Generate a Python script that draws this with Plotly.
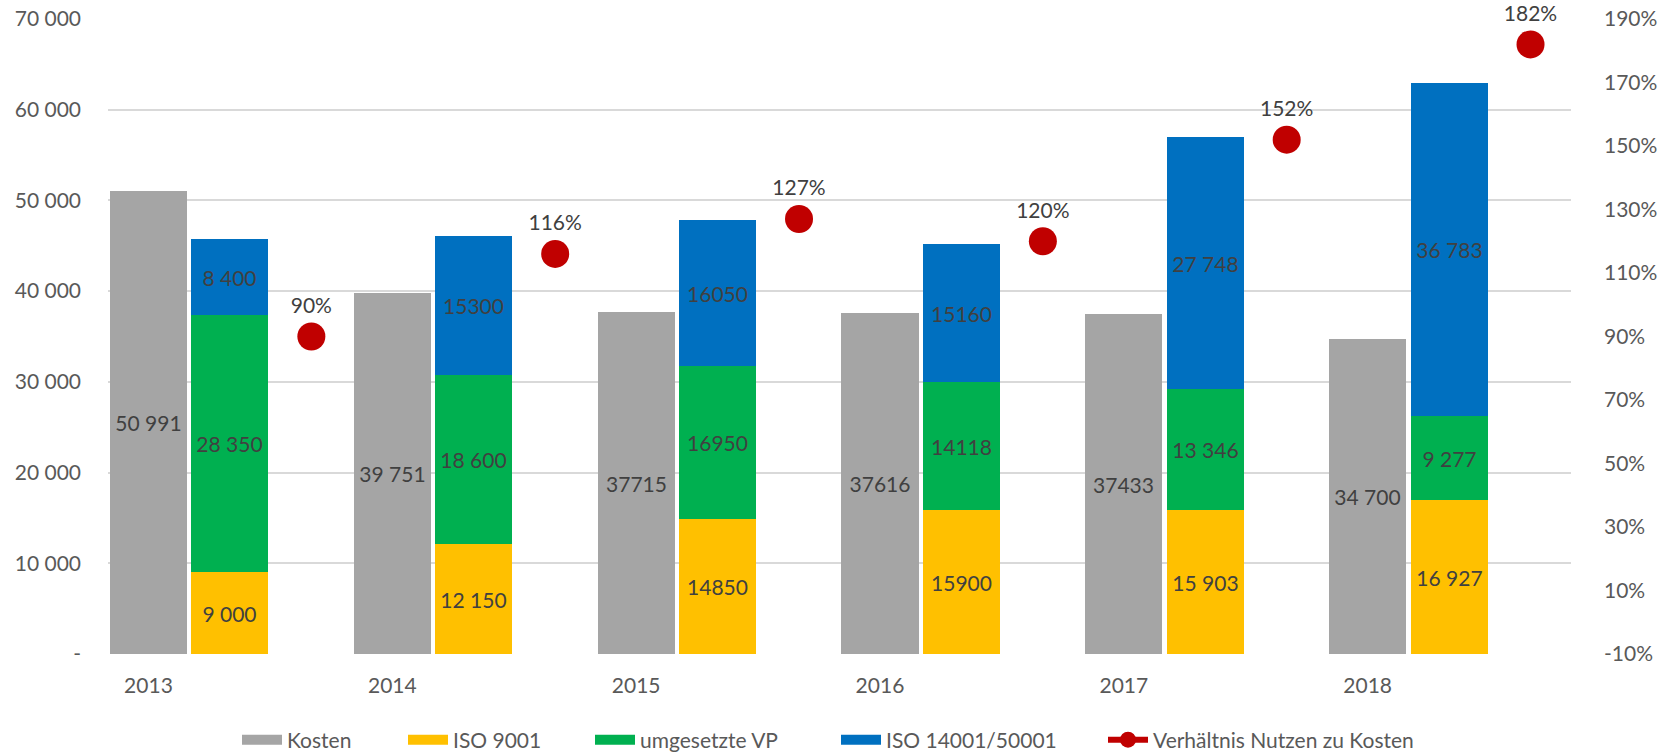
import plotly.graph_objects as go

years = ["2013", "2014", "2015", "2016", "2017", "2018"]
kosten = [50991, 39751, 37715, 37616, 37433, 34700]
iso9001 = [9000, 12150, 14850, 15900, 15903, 16927]
vp = [28350, 18600, 16950, 14118, 13346, 9277]
iso14001 = [8400, 15300, 16050, 15160, 27748, 36783]
ratio = [0.90, 1.16, 1.27, 1.20, 1.52, 1.82]

kosten_lbl = ["50 991", "39 751", "37715", "37616", "37433", "34 700"]
iso9001_lbl = ["9 000", "12 150", "14850", "15900", "15 903", "16 927"]
vp_lbl = ["28 350", "18 600", "16950", "14118", "13 346", "9 277"]
iso14001_lbl = ["8 400", "15300", "16050", "15160", "27 748", "36 783"]

left_ticks = [0, 10000, 20000, 30000, 40000, 50000, 60000, 70000]
left_ticktext = ["-", "10 000", "20 000", "30 000", "40 000", "50 000", "60 000", "70 000"]
right_ticks = [-0.1, 0.1, 0.3, 0.5, 0.7, 0.9, 1.1, 1.3, 1.5, 1.7, 1.9]
right_ticktext = ["-10%", "10%", "30%", "50%", "70%", "90%", "110%", "130%", "150%", "170%", "190%"]

names = ["Kosten", "ISO 9001", "umgesetzte VP", "ISO 14001/50001", "Verhältnis Nutzen zu Kosten"]
colors = ["#A5A5A5", "#FFC000", "#00B050", "#0070C0", "#C00000"]

FONT = "Lato"
AX_COLOR = "#595959"
LBL_COLOR = "#404040"
FS = 21
W, H = 1665, 752

idx = list(range(len(years)))
off = 0.334
bw = 0.316
x_k = [i - off for i in idx]
x_s = [i for i in idx]
x_r = [i + off for i in idx]

fig = go.Figure()

def bar(x, y, txt, name, color):
    return go.Bar(
        x=x, y=y, name=name, width=bw, showlegend=False,
        marker=dict(color=color, line=dict(width=0)),
        text=txt, textposition="inside", insidetextanchor="middle",
        textangle=0, constraintext="none",
        textfont=dict(family=FONT, size=FS, color=LBL_COLOR),
        hoverinfo="name+y",
    )

fig.add_trace(bar(x_k, kosten, kosten_lbl, names[0], colors[0]))
fig.add_trace(bar(x_s, iso9001, iso9001_lbl, names[1], colors[1]))
fig.add_trace(bar(x_s, vp, vp_lbl, names[2], colors[2]))
fig.add_trace(bar(x_s, iso14001, iso14001_lbl, names[3], colors[3]))

fig.add_trace(go.Scatter(
    x=x_r, y=ratio, yaxis="y2", mode="markers+text",
    marker=dict(color=colors[4], size=28),
    texttemplate="%{y:.0%}", textposition="top center", cliponaxis=False,
    textfont=dict(family=FONT, size=FS, color=LBL_COLOR),
    showlegend=False, name=names[4],
))

# legend entries (one legend per entry so they can be spaced like the original)
legend_keys = ["legend", "legend2", "legend3", "legend4", "legend5"]
for k in range(4):
    fig.add_trace(go.Scatter(
        x=[None], y=[None], mode="lines", name=names[k], legend=legend_keys[k],
        line=dict(color=colors[k], width=14),
    ))
fig.add_trace(go.Scatter(
    x=[None], y=[None], yaxis="y2", mode="lines+markers", name=names[4],
    legend=legend_keys[4],
    marker=dict(color=colors[4], size=18),
    line=dict(color=colors[4], width=6),
))

# symbol left edges in pixels (container)
leg_x = [233, 399, 586, 832, 1099]
leg_y_px = 740

def leg(xpx):
    return dict(
        orientation="h", xref="container", yref="container",
        x=(xpx + 4) / W, xanchor="left",
        y=(H - leg_y_px) / H, yanchor="middle",
        font=dict(family=FONT, size=FS, color=AX_COLOR),
        itemwidth=40, bgcolor="rgba(0,0,0,0)",
    )

fig.update_layout(
    width=W, height=H,
    margin=dict(l=108, r=94, t=19, b=98, autoexpand=False),
    paper_bgcolor="white", plot_bgcolor="white",
    barmode="stack", bargap=0,
    font=dict(family=FONT, size=FS, color=AX_COLOR),
    xaxis=dict(
        range=[-0.5, 5.5], tickmode="array", tickvals=x_k, ticktext=years,
        showgrid=False, zeroline=False, showline=False, ticks="",
        ticklabelstandoff=17,
        tickfont=dict(family=FONT, size=FS, color=AX_COLOR),
    ),
    yaxis=dict(
        range=[0, 70000], tickmode="array", tickvals=left_ticks, ticktext=left_ticktext,
        showgrid=True, gridcolor="#D9D9D9", gridwidth=1.5,
        zeroline=False, showline=False, ticks="",
        ticklabelstandoff=26,
        tickfont=dict(family=FONT, size=FS, color=AX_COLOR),
    ),
    yaxis2=dict(
        range=[-0.1, 1.9], overlaying="y", side="right", tickmode="array",
        tickvals=right_ticks, ticktext=right_ticktext, showgrid=False, zeroline=False,
        showline=False, ticks="", ticklabelstandoff=32,
        tickfont=dict(family=FONT, size=FS, color=AX_COLOR),
    ),
    legend=leg(leg_x[0]),
    legend2=leg(leg_x[1]),
    legend3=leg(leg_x[2]),
    legend4=leg(leg_x[3]),
    legend5=leg(leg_x[4]),
)

fig.write_html(
    "out.html",
    config={"displayModeBar": False},
    post_script="document.body.style.margin='0';document.body.style.overflow='hidden';",
)
